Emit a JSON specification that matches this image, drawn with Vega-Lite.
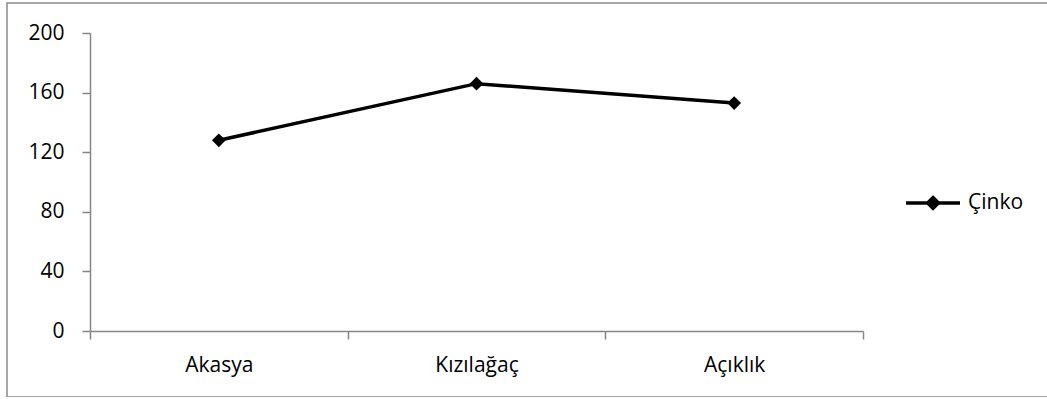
{
  "$schema": "https://vega.github.io/schema/vega-lite/v6.json",
  "width": 1045,
  "height": 394,
  "autosize": {"type": "none"},
  "padding": {"left": 7, "top": 3, "right": 0, "bottom": 0},
  "background": "white",
  "config": {
    "view": {"stroke": "#898989", "strokeWidth": 1.5},
    "font": "Open Sans"
  },
  "data": {
    "values": [
      {"yer": "Akasya", "deger": 128, "seri": "Çinko"},
      {"yer": "Kızılağaç", "deger": 166, "seri": "Çinko"},
      {"yer": "Açıklık", "deger": 153, "seri": "Çinko"}
    ]
  },
  "mark": {
    "type": "line",
    "color": "black",
    "strokeWidth": 3.5,
    "point": {"shape": "diamond", "size": 190, "filled": true, "color": "black"}
  },
  "encoding": {
    "x": {
      "field": "yer",
      "type": "nominal",
      "sort": null,
      "bandPosition": 0.5,
      "scale": {"type": "band", "range": [83, 856], "paddingInner": 0, "paddingOuter": 0},
      "axis": {
        "orient": "bottom",
        "offset": -66,
        "tickBand": "extent",
        "labelAngle": 0,
        "tickSize": 8,
        "tickWidth": 1.5,
        "tickColor": "#868686",
        "domainColor": "#868686",
        "domainWidth": 1.5,
        "labelFontSize": 21,
        "labelColor": "black",
        "labelPadding": 15,
        "title": null,
        "grid": false
      }
    },
    "y": {
      "field": "deger",
      "type": "quantitative",
      "scale": {"domain": [0, 200], "range": [328, 30]},
      "axis": {
        "values": [0, 40, 80, 120, 160, 200],
        "offset": -83,
        "tickSize": 8,
        "tickWidth": 1.5,
        "tickColor": "#868686",
        "domainColor": "#868686",
        "domainWidth": 1.5,
        "labelFontSize": 21,
        "labelColor": "black",
        "labelPadding": 18,
        "title": null,
        "grid": false
      }
    },
    "color": {
      "field": "seri",
      "type": "nominal",
      "scale": {"range": ["black"]},
      "legend": {
        "orient": "none",
        "legendX": 897,
        "legendY": 171,
        "title": null,
        "padding": 0,
        "symbolType": "M-1,0L1,0M0,-0.2L0.2,0L0,0.2L-0.2,0Z",
        "symbolSize": 2916,
        "symbolStrokeWidth": 3,
        "symbolStrokeColor": "black",
        "symbolFillColor": "black",
        "labelFontSize": 21,
        "labelColor": "black",
        "labelOffset": 6,
        "encode": {
          "symbols": {"update": {"fill": {"value": "black"}, "stroke": {"value": "black"}, "strokeWidth": {"value": 3.5}}}
        }
      }
    }
  }
}
